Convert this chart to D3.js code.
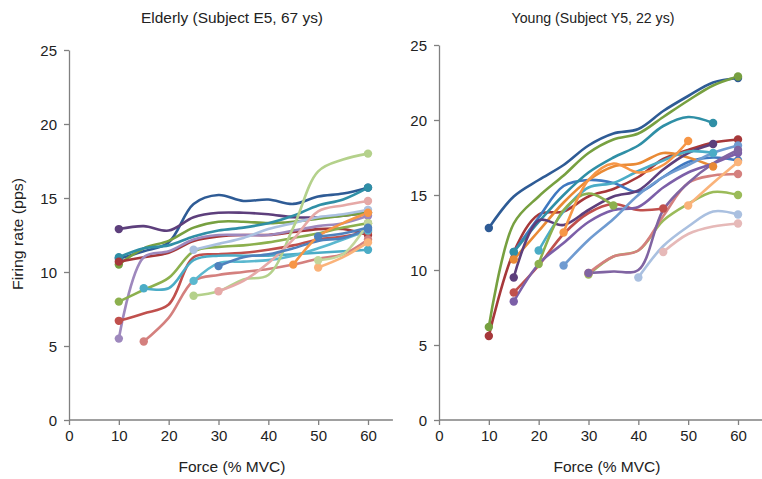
<!DOCTYPE html>
<html>
<head>
<meta charset="utf-8">
<script src="https://cdn.jsdelivr.net/npm/d3@7"></script>
<style>
  body { margin: 0; background: #fff; }
  text { font-family: "Liberation Sans Narrow", "Liberation Sans", Arial, sans-serif; fill: #222; }
</style>
</head>
<body>
<figure style="margin:0"></figure>
<script>
const width = 762
const height = 479

// x positions (force, % MVC) where each unit was sampled
const forces = [10, 15, 20, 25, 30, 35, 40, 45, 50, 55, 60]
const xTicks = [0, 10, 20, 30, 40, 50, 60]
const yTicks = [0, 5, 10, 15, 20, 25]

// Elderly: recruitment force, colour and rates of each unit
const elderlyStart = [10, 10, 10, 10, 10, 10, 10, 10, 15, 15, 25, 25, 25, 30, 30, 45, 50, 50, 50]
const elderlyColors = ['#2e5b95', '#5d3f7c', '#77a040', '#2f8fa6', '#a6383a', '#9e88bd', '#8cb04e', '#c0504d',
  '#4bacc6', '#d4807e', '#aac0e0', '#5bb8cf', '#b4d18b', '#e6a9a7', '#4f81bd', '#f79646', '#fab37a', '#c3d69b', '#4f81bd']
const elderlyRates = [
  [10.9, 11.4, 12.0, 14.6, 15.2, 14.8, 14.9, 14.6, 15.1, 15.3, 15.7],
  [12.9, 13.1, 12.8, 13.7, 14.0, 14.0, 13.9, 13.7, 13.7, 13.8, 14.0],
  [10.5, 11.6, 12.1, 13.0, 13.4, 13.4, 13.3, 13.4, 13.6, 13.8, 14.0],
  [11.0, 11.6, 11.8, 12.4, 12.8, 13.0, 13.3, 13.8, 14.5, 14.9, 15.7],
  [10.7, 11.0, 11.3, 12.1, 12.4, 12.5, 12.5, 12.7, 12.9, 12.9, 12.5],
  [5.5, 11.0, 11.4, 12.2, 12.5, 12.5, 12.5, 12.8, 13.1, 13.3, 13.8],
  [8.0, 8.8, 9.6, 11.4, 11.7, 11.8, 12.0, 12.3, 12.6, 13.0, 13.3],
  [6.7, 7.2, 7.8, 11.0, 11.2, 11.3, 11.5, 11.8, 12.2, 12.4, 12.7],
  [8.9, 8.9, 10.8, 11.1, 11.1, 11.1, 11.2, 11.3, 11.4, 11.5],
  [5.3, 6.9, 9.4, 9.8, 10.0, 10.2, 10.5, 10.9, 11.2, 12.2],
  [11.5, 11.9, 12.3, 12.9, 13.3, 13.7, 13.9, 14.2],
  [9.4, 10.6, 10.7, 10.8, 11.1, 11.6, 12.2, 12.8],
  [8.4, 8.7, 9.5, 9.8, 13.0, 16.8, 17.6, 18.0],
  [8.7, 9.4, 10.6, 12.2, 14.1, 14.5, 14.8],
  [10.4, 11.0, 11.2, 11.6, 12.1, 12.3, 12.9],
  [10.5, 12.4, 13.3, 14.0],
  [10.3, 11.0, 12.0],
  [10.8, 11.2, 13.3],
  [12.4, 12.6, 13.0]
]

// Young
const youngStart = [10, 10, 10, 15, 15, 15, 15, 15, 15, 20, 20, 25, 25, 30, 30, 30, 40, 45, 50]
const youngColors = ['#2e5b95', '#77a040', '#a6383a', '#c0504d', '#3f78c0', '#2f8fa6', '#e98a35', '#5d3f7c', '#7c5fa8',
  '#4bacc6', '#8cb04e', '#f79646', '#6f9bd1', '#9bbb59', '#d4807e', '#8064a2', '#aac0e0', '#e6b9b8', '#fab37a']
const youngRates = [
  [12.8, 14.9, 16.0, 17.0, 18.3, 19.1, 19.4, 20.6, 21.6, 22.5, 22.8],
  [6.2, 13.1, 14.9, 16.3, 17.8, 18.7, 19.1, 20.2, 21.3, 22.3, 22.9],
  [5.6, 11.2, 13.7, 13.9, 14.9, 15.4, 16.2, 17.4, 18.0, 18.5, 18.7],
  [8.5, 10.3, 12.4, 13.8, 14.4, 14.0, 14.1],
  [11.2, 13.5, 15.6, 16.0, 15.8, 15.2, 16.2, 17.2, 17.5, 17.3],
  [11.2, 13.2, 15.0, 16.5, 17.5, 18.3, 19.6, 20.2, 19.8],
  [10.7, 12.6, 14.5, 16.0, 16.9, 17.1, 17.8, 17.5, 16.9],
  [9.5, 13.3, 13.0, 14.0, 14.9, 15.3, 16.7, 17.8, 18.4],
  [7.9, 10.4, 11.8, 13.2, 14.0, 14.2, 15.5, 16.5, 17.1, 17.8],
  [11.3, 13.9, 15.5, 15.8, 16.6, 17.3, 17.9, 17.8],
  [10.4, 14.0, 15.1, 14.3],
  [12.5, 16.0, 17.1, 16.5, 17.0, 18.6],
  [10.3, 12.0, 13.4, 15.0, 16.2, 17.0, 17.8, 18.3],
  [9.7, 10.9, 11.3, 13.3, 14.4, 15.2, 15.0],
  [9.8, 10.9, 11.3, 13.6, 15.8, 16.3, 16.4],
  [9.8, 9.9, 10.0, 14.0, 15.8, 17.1, 18.0],
  [9.5, 11.6, 12.9, 13.9, 13.7],
  [11.2, 12.4, 12.9, 13.1],
  [14.3, 15.8, 17.2]
]

const svg = d3.select('figure').append('svg')
  .attr('width', width)
  .attr('height', height)

// narrow-looking label: taller font squeezed to a given width
const label = (sel, txt, len) => sel
  .style('font-size', '15.5px')
  .attr('textLength', len)
  .attr('lengthAdjust', 'spacingAndGlyphs')
  .text(txt)

const drawPanel = (cfg) => {
  const x = d3.scaleLinear().domain([0, 60]).range([cfg.x0, cfg.x60])
  const y = d3.scaleLinear().domain([0, 25]).range([420, cfg.yTop])
  const g = svg.append('g')

  // axes
  const xAxis = g.append('g')
    .attr('transform', 'translate(0,420)')
    .call(d3.axisBottom(x).tickValues(xTicks).tickSize(5).tickPadding(5).tickSizeOuter(0))
  xAxis.select('.domain').attr('d', `M${x(0)},0H${x(cfg.xEnd)}`)
  const yAxis = g.append('g')
    .attr('transform', `translate(${x(0)},0)`)
    .call(d3.axisLeft(y).tickValues(yTicks).tickSize(5).tickPadding(7).tickSizeOuter(0))
  g.selectAll('.domain, .tick line').attr('stroke', '#808080').attr('stroke-width', 1.3)
  g.selectAll('.tick text').style('font-size', '15px').attr('fill', '#222')
  yAxis.selectAll('.tick text').attr('dy', '0.35em')

  g.append('text')
    .attr('x', cfg.titleX).attr('y', 23)
    .attr('text-anchor', 'middle')
    .call(label, cfg.title, cfg.titleLen)
  g.append('text')
    .attr('x', cfg.labelX).attr('y', 472)
    .attr('text-anchor', 'middle')
    .call(label, 'Force (% MVC)', 107)

  const line = d3.line()
    .x(d => x(d[0]))
    .y(d => y(d[1]))
    .curve(d3.curveCatmullRom.alpha(0.5))

  const series = cfg.rates.map((r, i) => {
    const k = forces.indexOf(cfg.starts[i])
    return { color: cfg.colors[i], values: r.map((v, j) => [forces[k + j], v]) }
  })

  g.selectAll('path.unit')
    .data(series)
    .join('path')
      .attr('class', 'unit')
      .attr('d', d => line(d.values))
      .attr('fill', 'none')
      .attr('stroke', d => d.color)
      .attr('stroke-width', 2.6)
      .attr('stroke-linecap', 'round')

  g.selectAll('g.ends')
    .data(series)
    .join('g')
      .attr('class', 'ends')
      .attr('fill', d => d.color)
    .selectAll('circle')
    .data(d => [d.values[0], d.values[d.values.length - 1]])
    .join('circle')
      .attr('cx', d => x(d[0]))
      .attr('cy', d => y(d[1]))
      .attr('r', 4.2)
}

drawPanel({ x0: 69, x60: 368, xEnd: 65, yTop: 50, title: 'Elderly (Subject E5, 67 ys)', titleX: 232, titleLen: 182,
  labelX: 232, starts: elderlyStart, colors: elderlyColors, rates: elderlyRates })
drawPanel({ x0: 439, x60: 738, xEnd: 66, yTop: 45, title: 'Young (Subject Y5, 22 ys)', titleX: 593, titleLen: 163,
  labelX: 607, starts: youngStart, colors: youngColors, rates: youngRates })

svg.append('text')
  .attr('transform', 'translate(23,234) rotate(-90)')
  .attr('text-anchor', 'middle')
  .call(label, 'Firing rate (pps)', 112)
</script>
</body>
</html>
